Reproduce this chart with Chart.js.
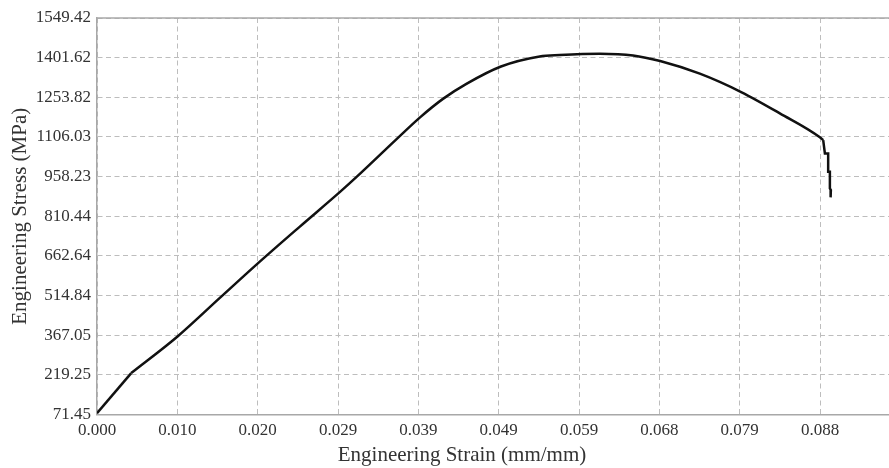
<!DOCTYPE html>
<html>
<head>
<meta charset="utf-8">
<script src="https://cdn.jsdelivr.net/npm/chart.js@4/dist/chart.umd.min.js"></script>
<style>
  body { margin: 0; background: #fff; }
  #wrap { width: 889px; height: 468px; }
</style>
</head>
<body>
<div id="wrap"><canvas id="canvas" width="889" height="468"></canvas></div>
<script>
// values
let xTickLabels = ["0.000", "0.010", "0.020", "0.029", "0.039", "0.049", "0.059", "0.068", "0.079", "0.088"];
let xTickStep = 0.00984;
let xMax = 0.0970;
let yTickValues = [71.45, 219.25, 367.05, 514.84, 662.64, 810.44, 958.23, 1106.03, 1253.82, 1401.62, 1549.42];

// first straight part up to the kink
let startStrain = [0, 0.00419];
let startStress = [76, 225.9];

// stress-strain curve from the kink to the fracture point
let strain = [0.00419, 0.00990, 0.01501, 0.02004, 0.02481, 0.02980, 0.03176, 0.03666, 0.03960,
  0.04237, 0.04524, 0.04948, 0.05422, 0.05667, 0.06158, 0.06566, 0.06897, 0.07383, 0.07889,
  0.08363, 0.08853, 0.08894];
let stress = [225.9, 363.3, 505.0, 643.9, 771.0, 902.0, 956.0, 1097.0, 1180.0,
  1248.0, 1303.9, 1368.6, 1406.0, 1411.5, 1416.6, 1410.0, 1389.0, 1341.8, 1273.4,
  1194.0, 1105.0, 1094.0];

// stepped drop after fracture
let fractureStrain = [0.08894, 0.08915, 0.08955, 0.08955, 0.08976, 0.08976, 0.08988, 0.08985];
let fractureStress = [1094.0, 1044.3, 1044.3, 975.9, 975.9, 914.5, 908.1, 880.8];

let fontFamily = "'Liberation Serif', 'Times New Roman', serif";
let textColor = "#333";
let gridColor = "#bdbdbd";
let axisColor = "#a8a8a8";

let toPoints = (xs, ys) => xs.map((x, i) => ({ x: x, y: ys[i] }));

let lineSet = (label, xs, ys, smooth) => ({
  label: label,
  data: toPoints(xs, ys),
  borderColor: "#111",
  borderWidth: 2.5,
  pointRadius: 0,
  cubicInterpolationMode: smooth ? "monotone" : "default",
  tension: 0,
  fill: false,
});

// x title + top frame line
let extras = {
  id: "extras",
  afterDraw(chart) {
    let ctx = chart.ctx;
    let area = chart.chartArea;
    ctx.save();
    ctx.strokeStyle = axisColor;
    ctx.lineWidth = 1.5;
    ctx.beginPath();
    ctx.moveTo(area.left, area.top);
    ctx.lineTo(area.right, area.top);
    ctx.stroke();
    ctx.fillStyle = textColor;
    ctx.font = "21px " + fontFamily;
    ctx.textAlign = "center";
    ctx.textBaseline = "middle";
    ctx.fillText("Engineering Strain (mm/mm)", 462, 455);
    ctx.restore();
  },
};

let ctx = document.getElementById("canvas").getContext("2d");
let chart = new Chart(ctx, {
  type: "line",
  data: {
    datasets: [
      lineSet("start", startStrain, startStress, false),
      lineSet("curve", strain, stress, true),
      lineSet("fracture", fractureStrain, fractureStress, false),
    ],
  },
  options: {
    responsive: false,
    animation: false,
    layout: { padding: { top: 18, right: 0, left: 0, bottom: 0 } },
    plugins: {
      legend: { display: false },
      tooltip: { enabled: false },
    },
    scales: {
      x: {
        type: "linear",
        min: 0,
        max: xMax,
        afterBuildTicks: (scale) => {
          scale.ticks = xTickLabels.map((l, i) => ({ value: i * xTickStep }));
        },
        afterFit: (scale) => { scale.height = 53.5; },
        ticks: {
          padding: 6,
          maxRotation: 0,
          autoSkip: false,
          color: textColor,
          font: { family: fontFamily, size: 17 },
          callback: (value, index) => xTickLabels[index],
        },
        grid: { color: gridColor, lineWidth: 1, drawTicks: false },
        border: { color: axisColor, width: 1.5, dash: [5, 3.5] },
      },
      y: {
        type: "linear",
        min: yTickValues[0],
        max: yTickValues[yTickValues.length - 1],
        afterBuildTicks: (scale) => {
          scale.ticks = yTickValues.map((v) => ({ value: v }));
        },
        afterFit: (scale) => { scale.width = 97; },
        ticks: {
          padding: 6,
          autoSkip: false,
          color: textColor,
          font: { family: fontFamily, size: 17 },
          callback: (value) => value.toFixed(2),
        },
        grid: { color: gridColor, lineWidth: 1, drawTicks: false },
        border: { color: axisColor, width: 1.5, dash: [5, 3.5] },
        title: {
          display: true,
          text: "Engineering Stress (MPa)",
          color: textColor,
          font: { family: fontFamily, size: 21 },
          padding: { top: 8, bottom: 0 },
        },
      },
    },
  },
  plugins: [extras],
});
</script>
</body>
</html>
